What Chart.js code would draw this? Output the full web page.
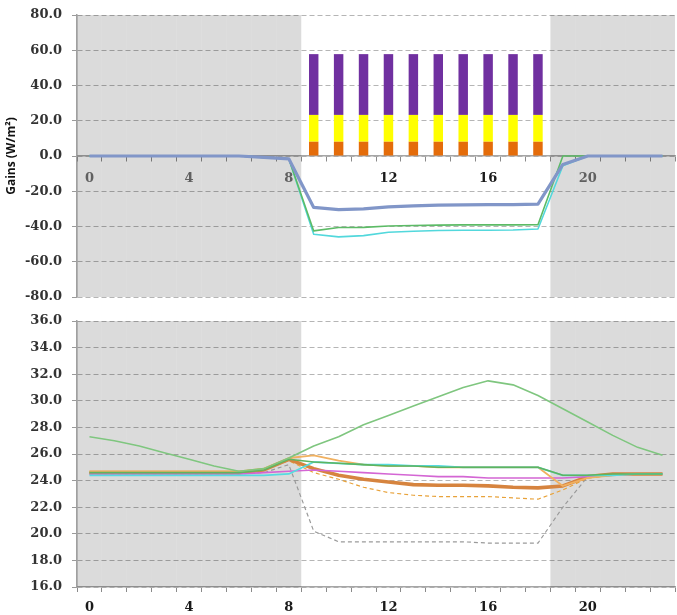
<!DOCTYPE html>
<html>
<head>
<meta charset="utf-8">
<script src="https://cdn.jsdelivr.net/npm/chart.js@4"></script>
<style>
  html, body { margin: 0; padding: 0; background: #fff; }
  #wrap { position: relative; width: 677px; height: 615px; }
  .box { position: absolute; left: 0; width: 677px; }
  #gainsBox { top: 0; height: 310px; }
  #tempBox { top: 310px; height: 305px; }
</style>
</head>
<body>
<div id="wrap">
  <div class="box" id="gainsBox"><canvas id="gainsChart"></canvas></div>
  <div class="box" id="tempBox"><canvas id="tempChart"></canvas></div>
</div>
<script>
const hourLabels = ['0','1','2','3','4','5','6','7','8','9','10','11','12','13','14','15','16','17','18','19','20','21','22','23'];
const unoccupied = [true,true,true,true,true,true,true,true,true,false,false,false,false,false,false,false,false,false,false,true,true,true,true,true];

// top panel: gains (W/m2)
const equipmentGains = [null,null,null,null,null,null,null,null,null,8.1,8.1,8.1,8.1,8.1,8.1,8.1,8.1,8.1,8.1,null,null,null,null,null];
const lightingGains  = [null,null,null,null,null,null,null,null,null,15.2,15.2,15.2,15.2,15.2,15.2,15.2,15.2,15.2,15.2,null,null,null,null,null];
const solarGains     = [null,null,null,null,null,null,null,null,null,34.5,34.5,34.5,34.5,34.5,34.5,34.5,34.5,34.5,34.5,null,null,null,null,null];
const totalRemoved   = [0,0,0,0,0,0,0,-0.8,-1.6,-29.2,-30.4,-30.0,-28.9,-28.3,-27.9,-27.7,-27.6,-27.6,-27.3,-4.8,0,0,0,0];
const slabRemoved    = [0,0,0,0,0,0,0,-0.8,-1.6,-42.5,-40.6,-40.5,-39.7,-39.4,-39.2,-39.1,-39.1,-39.1,-39.0,0,0,0,0,0];
const coolingRemoved = [0,0,0,0,0,0,0,-0.8,-1.6,-44.4,-45.9,-45.2,-43.3,-42.7,-42.3,-42.1,-42.1,-42.0,-41.4,-5.5,0,0,0,0];
const gainsMin = -80, gainsMax = 80, gainsStep = 20;

// bottom panel: temperatures
const outdoorTemp   = [27.3,27.0,26.6,26.1,25.6,25.1,24.7,24.9,25.7,26.6,27.3,28.2,28.9,29.6,30.3,31.0,31.5,31.2,30.4,29.4,28.4,27.4,26.5,25.9];
const ceilingTemp   = [24.6,24.6,24.6,24.6,24.6,24.6,24.6,24.8,25.6,25.4,25.3,25.2,25.1,25.1,25.0,25.0,25.0,25.0,25.0,24.4,24.4,24.5,24.5,24.5];
const surfaceTemp   = [24.4,24.4,24.4,24.4,24.4,24.4,24.4,24.4,24.5,25.4,25.3,25.2,25.2,25.1,25.1,25.0,25.0,25.0,25.0,24.4,24.4,24.4,24.5,24.5];
const upperAirTemp  = [24.7,24.7,24.7,24.7,24.7,24.7,24.7,24.9,25.7,25.9,25.5,25.2,25.1,25.1,25.0,25.0,25.0,25.0,25.0,23.6,24.2,24.4,24.5,24.5];
const roomAirTemp   = [24.6,24.6,24.6,24.6,24.6,24.6,24.6,24.8,25.6,24.9,24.4,24.1,23.9,23.7,23.65,23.65,23.6,23.5,23.45,23.6,24.3,24.5,24.5,24.5];
const lowerAirTemp  = [24.6,24.6,24.6,24.6,24.6,24.6,24.6,24.8,25.5,24.6,24.1,23.5,23.1,22.9,22.8,22.8,22.8,22.7,22.6,23.3,24.2,24.4,24.5,24.5];
const floorTemp     = [24.5,24.5,24.5,24.5,24.5,24.5,24.5,24.6,24.7,24.8,24.7,24.6,24.5,24.4,24.3,24.3,24.2,24.2,24.2,24.2,24.3,24.4,24.5,24.5];
const supplyTemp    = [24.5,24.5,24.5,24.5,24.5,24.5,24.5,24.6,25.2,20.2,19.4,19.4,19.4,19.4,19.4,19.4,19.3,19.3,19.3,22.0,24.3,24.4,24.5,24.5];
const tempMin = 16, tempMax = 36, tempStep = 2;

const shadeColor = 'rgba(0,0,0,0.14)';
const gridColor = '#b5b5b5';
const tickFont = { family: 'DejaVu Serif', size: 13, weight: 'bold' };

function lineSet(label, data, color, width, dash, yAxisID) {
  return {
    type: 'line', label, data, yAxisID,
    borderColor: color, borderWidth: width, borderDash: dash || [],
    pointRadius: 0, tension: 0, fill: false, order: 1,
    borderJoinStyle: 'round'
  };
}

function shadeSet(min, max, yAxisID) {
  return {
    label: 'Unoccupied', data: unoccupied.map(u => u ? [min, max] : null), yAxisID,
    backgroundColor: shadeColor, borderWidth: 0, inflateAmount: 0,
    grouped: false, barPercentage: 1, categoryPercentage: 1, order: 10
  };
}

function hourTick(value, index) {
  return index % 4 === 0 ? hourLabels[index] : '';
}

function fitY(scale) {
  scale.width = 77;
  scale.paddingTop = 0;
  scale.paddingBottom = 0;
}

function yGrid() {
  return { color: gridColor, lineWidth: 1, tickColor: '#9a9a9a', tickLength: 5, tickWidth: 1, tickBorderDash: [], tickBorderDashOffset: 0 };
}
function yBorder() {
  return { color: '#a0a0a0', width: 1.5, dash: [5, 3], dashOffset: 0 };
}
function xGrid() {
  return { drawOnChartArea: false, drawTicks: true, tickLength: 5, tickWidth: 1, offset: true, color: '#8a8a8a', tickColor: '#8a8a8a', tickBorderDash: [], tickBorderDashOffset: 0 };
}

new Chart(document.getElementById('gainsChart'), {
  type: 'bar',
  data: {
    labels: hourLabels,
    datasets: [
      lineSet('Total', totalRemoved, '#8196c8', 3.2, null, 'yLine'),
      lineSet('Slab', slabRemoved, '#5cbb66', 1.6, null, 'yLine'),
      lineSet('Cooling', coolingRemoved, '#52d8dc', 1.6, null, 'yLine'),
      { label: 'Equipment', data: equipmentGains, backgroundColor: '#e46c0a', stack: 'gains', barPercentage: 0.38, categoryPercentage: 1, order: 5 },
      { label: 'Lighting', data: lightingGains, backgroundColor: '#ffff00', stack: 'gains', barPercentage: 0.38, categoryPercentage: 1, order: 5 },
      { label: 'Solar', data: solarGains, backgroundColor: '#7030a0', stack: 'gains', barPercentage: 0.38, categoryPercentage: 1, order: 5 },
      shadeSet(gainsMin, gainsMax, 'yShade')
    ]
  },
  options: {
    responsive: true,
    maintainAspectRatio: false,
    animation: false,
    layout: { padding: { top: 15, bottom: 13, right: 2, left: 0 } },
    plugins: { legend: { display: false }, tooltip: { enabled: false } },
    scales: {
      x: {
        position: { y: 0 },
        stacked: true,
        offset: true,
        grid: xGrid(),
        border: { color: '#a6a6a6', width: 1.5 },
        ticks: {
          autoSkip: false, maxRotation: 0, padding: 10, font: tickFont, callback: hourTick,
          color: ctx => unoccupied[ctx.index] ? '#707070' : '#1a1a1a'
        }
      },
      y: {
        stacked: true,
        min: gainsMin, max: gainsMax,
        afterFit: fitY,
        title: { display: true, text: 'Gains (W/m²)', font: { family: 'Open Sans', size: 12, weight: 'bold' }, color: '#111', padding: { top: 4, bottom: 4 } },
        grid: yGrid(),
        border: yBorder(),
        ticks: { stepSize: gainsStep, padding: 10, font: tickFont, color: '#333', callback: v => v.toFixed(1) }
      },
      yLine: { display: false, stacked: false, min: gainsMin, max: gainsMax },
      yShade: { display: false, stacked: false, min: gainsMin, max: gainsMax }
    }
  }
});

new Chart(document.getElementById('tempChart'), {
  type: 'bar',
  data: {
    labels: hourLabels,
    datasets: [
      lineSet('Outdoor', outdoorTemp, '#7fc67f', 1.6, null, 'y'),
      lineSet('Ceiling', ceilingTemp, '#5fb45f', 1.6, null, 'y'),
      lineSet('Surface', surfaceTemp, '#55dbe0', 1.8, null, 'y'),
      lineSet('Upper air', upperAirTemp, '#f1b160', 1.8, null, 'y'),
      lineSet('Floor', floorTemp, '#d466d4', 1.6, null, 'y'),
      lineSet('Room air', roomAirTemp, '#d6843f', 3.6, null, 'y'),
      lineSet('Lower air', lowerAirTemp, '#e8a23a', 1.2, [4, 3], 'y'),
      lineSet('Supply', supplyTemp, '#9a9a9a', 1.2, [4, 3], 'y'),
      shadeSet(tempMin, tempMax, 'y')
    ]
  },
  options: {
    responsive: true,
    maintainAspectRatio: false,
    animation: false,
    layout: { padding: { top: 11, bottom: 0, right: 2, left: 0 } },
    plugins: { legend: { display: false }, tooltip: { enabled: false } },
    scales: {
      x: {
        offset: true,
        afterFit: scale => { scale.height = 28; },
        grid: xGrid(),
        border: { color: '#a6a6a6', width: 1.5 },
        ticks: { autoSkip: false, maxRotation: 0, padding: 8, font: tickFont, color: '#1a1a1a', callback: hourTick }
      },
      y: {
        min: tempMin, max: tempMax,
        afterFit: fitY,
        grid: yGrid(),
        border: yBorder(),
        ticks: { stepSize: tempStep, padding: 10, font: tickFont, color: '#333', callback: v => v.toFixed(1) }
      }
    }
  }
});
</script>
</body>
</html>
